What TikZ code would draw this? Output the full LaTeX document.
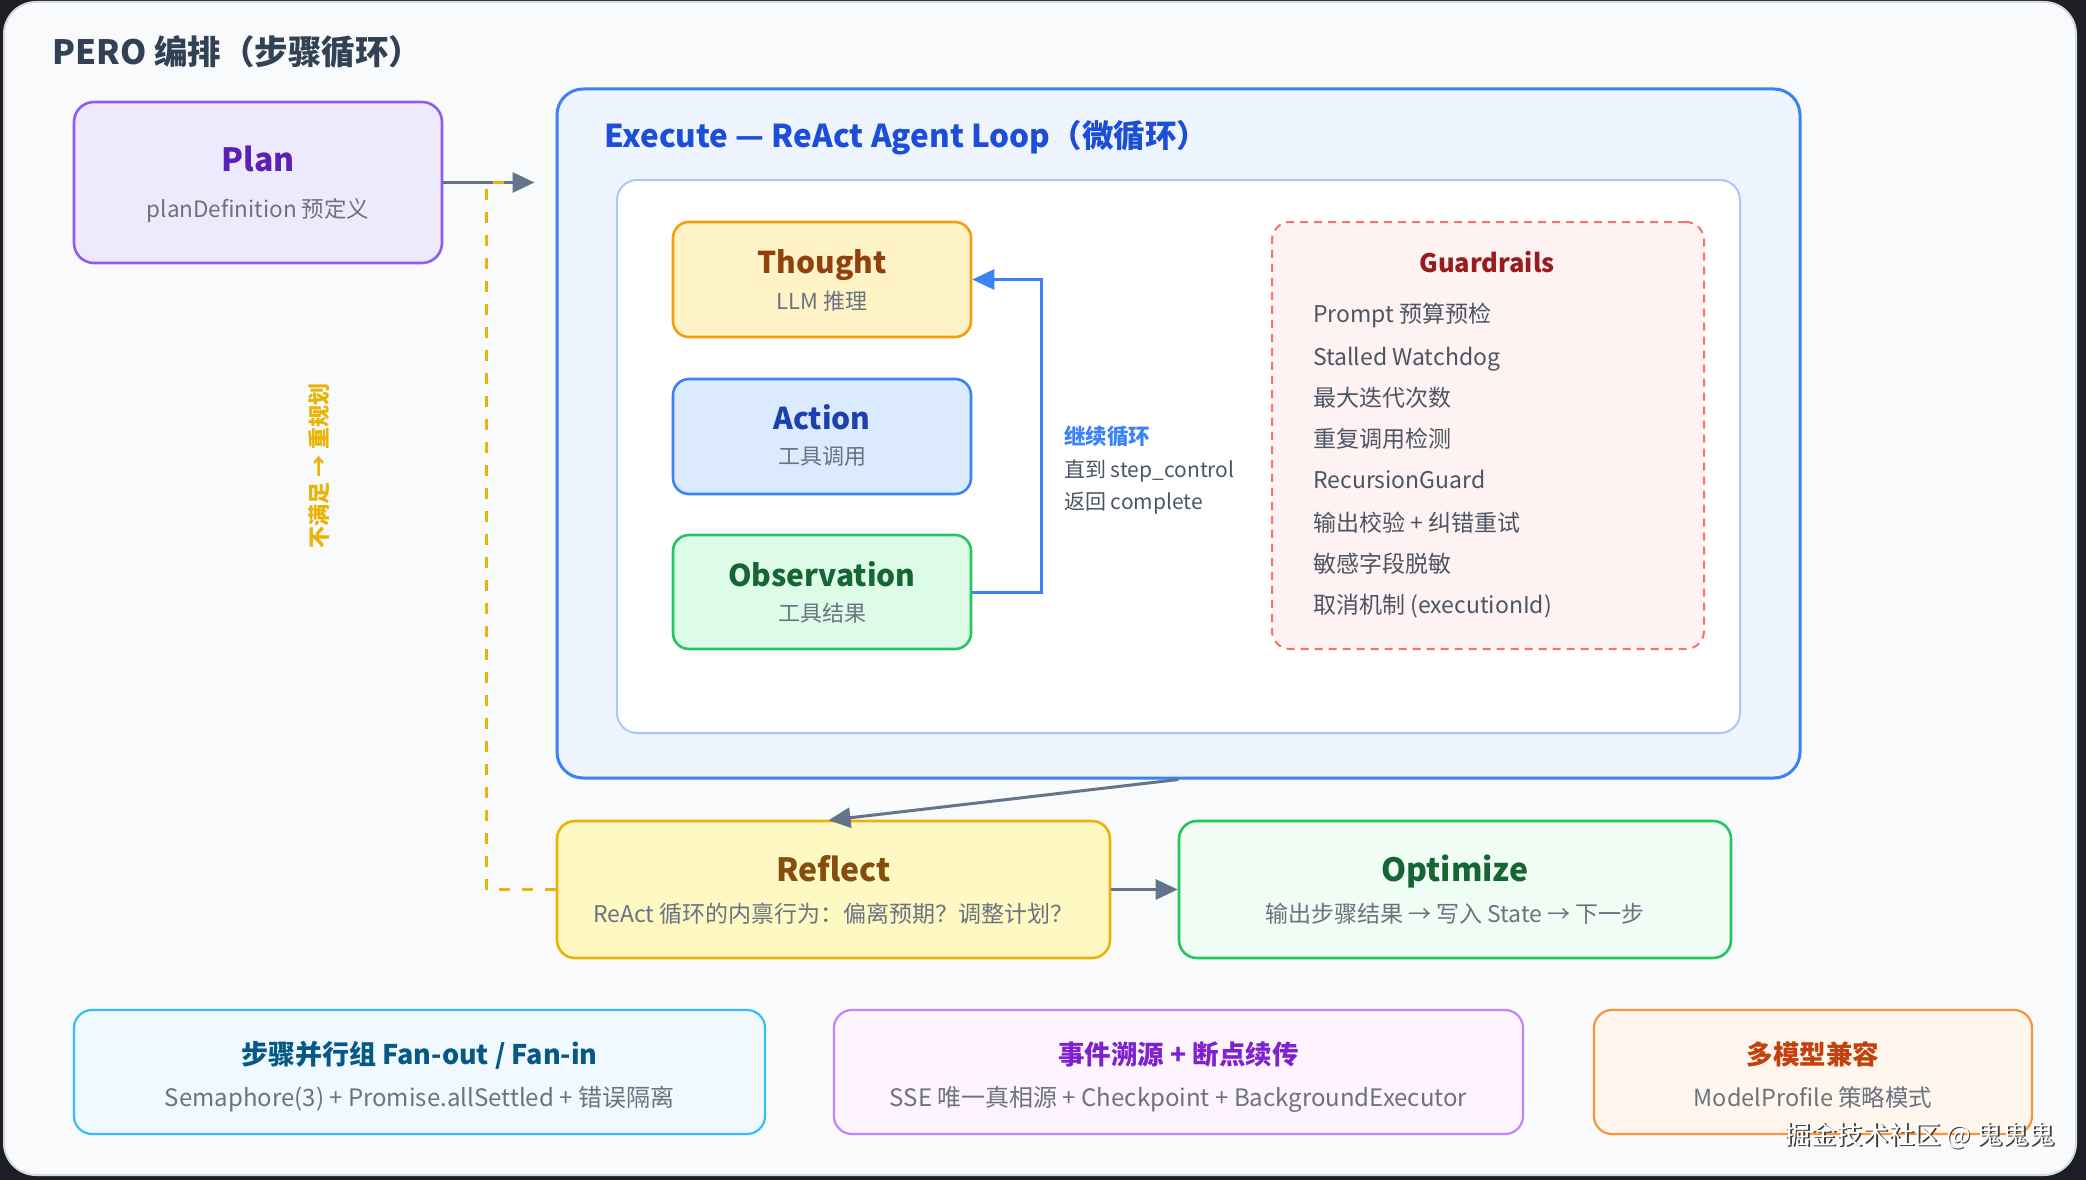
\documentclass[tikz,border=0pt]{standalone}
\usepackage{fontspec}
\setmainfont{Noto Sans CJK SC}
\usetikzlibrary{arrows.meta,calc}
\newcommand\fsz[1]{\fontsize{#1pt}{#1pt}\selectfont}
\definecolor{bgdark}{HTML}{1E1F26}
\definecolor{panel}{HTML}{F8FAFC}
\definecolor{panelB}{HTML}{D5D9E0}
\definecolor{titleC}{HTML}{334155}
\definecolor{planF}{HTML}{EEEAFD}
\definecolor{planB}{HTML}{8B5CF6}
\definecolor{planT}{HTML}{5B21B6}
\definecolor{subC}{HTML}{6B7280}
\definecolor{execF}{HTML}{EEF5FF}
\definecolor{execB}{HTML}{3B82F6}
\definecolor{execT}{HTML}{1D4ED8}
\definecolor{innerB}{HTML}{A5CAFA}
\definecolor{thF}{HTML}{FEF3C7}
\definecolor{thB}{HTML}{F59E0B}
\definecolor{thT}{HTML}{92400E}
\definecolor{acF}{HTML}{DBEAFE}
\definecolor{acB}{HTML}{3B82F6}
\definecolor{acT}{HTML}{1E40AF}
\definecolor{obF}{HTML}{DCFCE7}
\definecolor{obB}{HTML}{22C55E}
\definecolor{obT}{HTML}{166534}
\definecolor{loopC}{HTML}{3B82F6}
\definecolor{gdF}{HTML}{FEF2F2}
\definecolor{gdB}{HTML}{F87171}
\definecolor{gdT}{HTML}{991B1B}
\definecolor{itemC}{HTML}{4B5563}
\definecolor{rfF}{HTML}{FEF9C3}
\definecolor{rfB}{HTML}{EAB308}
\definecolor{rfT}{HTML}{854D0E}
\definecolor{opF}{HTML}{F0FDF4}
\definecolor{opB}{HTML}{22C55E}
\definecolor{opT}{HTML}{166534}
\definecolor{arrowC}{HTML}{64748B}
\definecolor{yellowC}{HTML}{EAB308}
\definecolor{bAF}{HTML}{F0F9FF}
\definecolor{bAB}{HTML}{38BDF8}
\definecolor{bAT}{HTML}{075985}
\definecolor{bBF}{HTML}{FDF4FF}
\definecolor{bBB}{HTML}{C084FC}
\definecolor{bBT}{HTML}{7E22CE}
\definecolor{bCF}{HTML}{FFF7ED}
\definecolor{bCB}{HTML}{FB923C}
\definecolor{bCT}{HTML}{C2410C}
\begin{document}
\begin{tikzpicture}[x=1pt,y=-1pt,
  box/.style={draw, line width=2.6pt, rounded corners=18pt, inner sep=0pt},
  ttl/.style={anchor=base, inner sep=0pt, font=\fsz{#1}\bfseries},
  sub/.style={anchor=base, inner sep=0pt, font=\fsz{#1}, text=subC},
  item/.style={anchor=base west, inner sep=0pt, font=\fsz{23}, text=itemC},
  garrow/.style={draw=arrowC, line width=3pt, -{Triangle[length=22pt,width=20pt]}},
  barrow/.style={draw=loopC, line width=3pt, -{Triangle[length=22pt,width=20pt]}},
  ydash/.style={draw=yellowC, line width=3pt, dash pattern=on 11pt off 12pt}
]
\useasboundingbox (0,0) rectangle (2086,1180);
\fill[bgdark] (0,0) rectangle (2086,1180);
\draw[fill=panel, draw=panelB, line width=2pt, rounded corners=32pt] (4,2) rectangle (2076,1175);

% title
\node[anchor=base west, inner sep=0pt, font=\fsz{33.5}\bfseries, text=titleC] (title) at (52,65) {PERO 编排（步骤循环）};

% Plan
\node[box, draw=planB, fill=planF, minimum width=368pt, minimum height=161pt, rounded corners=20pt] (plan) at (258,182.5) {};
\node[ttl=32, text=planT] (planT) at (258,171.5) {Plan};
\node[sub=22.5] (planS) at (258,217) {planDefinition 预定义};

% Execute
\node[box, draw=execB, fill=execF, line width=3pt, minimum width=1243pt, minimum height=689pt, rounded corners=26pt] (exec) at (1178.5,433.5) {};
\node[anchor=base west, inner sep=0pt, font=\fsz{31.5}\bfseries, text=execT] (execT) at (604,148) {Execute — ReAct Agent Loop（微循环）};
\node[box, draw=innerB, fill=white, line width=2pt, minimum width=1123pt, minimum height=553pt, rounded corners=20pt] (inner) at (1178.5,456.5) {};

% Thought / Action / Observation
\node[box, draw=thB, fill=thF, minimum width=298pt, minimum height=115pt, rounded corners=16pt] (thought) at (822,279.5) {};
\node[ttl=30, text=thT] (thoughtT) at (822,273) {Thought};
\node[sub=22] (thoughtS) at (822,309) {LLM 推理};
\node[box, draw=acB, fill=acF, minimum width=298pt, minimum height=115pt, rounded corners=16pt] (action) at (822,436.5) {};
\node[ttl=30, text=acT] (actionT) at (822,429) {Action};
\node[sub=22] (actionS) at (822,464) {工具调用};
\node[box, draw=obB, fill=obF, minimum width=298pt, minimum height=114pt, rounded corners=16pt] (obs) at (822,592) {};
\node[ttl=30, text=obT] (obsT) at (822,586) {Observation};
\node[sub=22] (obsS) at (822,621) {工具结果};

% loop connector
\draw[barrow] (obs.east) -- ++(69,0) |- (thought.east);
\node[anchor=base west, inner sep=0pt, font=\fsz{21.5}\bfseries, text=loopC] (loopA) at (1064,444) {继续循环};
\node[anchor=base west, inner sep=0pt, font=\fsz{21}, text=itemC] (loopB) at (1064,477) {直到 step\_control};
\node[anchor=base west, inner sep=0pt, font=\fsz{21}, text=itemC] (loopC) at (1064,509) {返回 complete};

% Guardrails
\node[box, draw=gdB, fill=gdF, line width=2pt, dash pattern=on 8pt off 6pt, minimum width=432pt, minimum height=427pt, rounded corners=18pt] (guard) at (1488,435.5) {};
\node[ttl=25.5, text=gdT] (guardT) at (1487,272) {Guardrails};
\node[item] (g1) at (1313,322) {Prompt 预算预检};
\node[item] (g2) at (1313,365) {Stalled Watchdog};
\node[item] (g3) at (1313,406) {最大迭代次数};
\node[item] (g4) at (1313,447) {重复调用检测};
\node[item] (g5) at (1313,488) {RecursionGuard};
\node[item] (g6) at (1313,531) {输出校验 + 纠错重试};
\node[item] (g7) at (1313,572) {敏感字段脱敏};
\node[item] (g8) at (1313,613) {取消机制 (executionId)};

% Reflect / Optimize
\node[box, draw=rfB, fill=rfF, minimum width=553pt, minimum height=137pt, rounded corners=18pt] (reflect) at (833.5,889.5) {};
\node[ttl=32, text=rfT] (reflectT) at (833.5,881.5) {Reflect};
\node[sub=23] (reflectS) at (833.5,922) {ReAct 循环的内禀行为：偏离预期？调整计划？};
\node[box, draw=opB, fill=opF, minimum width=552pt, minimum height=137pt, rounded corners=18pt] (optimize) at (1455,889.5) {};
\node[ttl=32, text=opT] (optimizeT) at (1455,881.5) {Optimize};
\node[sub=23] (optimizeS) at (1455,922) {输出步骤结果 → 写入 State → 下一步};

% bottom boxes
\node[box, draw=bAB, fill=bAF, line width=2.2pt, minimum width=691pt, minimum height=124pt, rounded corners=18pt] (bA) at (419.5,1072) {};
\node[ttl=27, text=bAT] (bAT) at (419.5,1064.5) {步骤并行组 Fan-out / Fan-in};
\node[sub=24] (bAS) at (419.5,1106.5) {Semaphore(3) + Promise.allSettled + 错误隔离};
\node[box, draw=bBB, fill=bBF, line width=2.2pt, minimum width=689pt, minimum height=124pt, rounded corners=18pt] (bB) at (1178.5,1072) {};
\node[ttl=26.5, text=bBT] (bBT) at (1178.5,1064.5) {事件溯源 + 断点续传};
\node[sub=24] (bBS) at (1178.5,1106.5) {SSE 唯一真相源 + Checkpoint + BackgroundExecutor};
\node[box, draw=bCB, fill=bCF, line width=2.2pt, minimum width=438pt, minimum height=124pt, rounded corners=18pt] (bC) at (1813,1072) {};
\node[ttl=26.5, text=bCT] (bCT) at (1813,1064.5) {多模型兼容};
\node[sub=23.5] (bCS) at (1813,1106.5) {ModelProfile 策略模式};

% connectors
\draw[garrow, shorten >=21pt] (plan.east) -- (plan.east -| exec.west);
\coordinate (yend) at (512,182.5);
\draw[ydash] (reflect.west) -- ++(-69,0) |- (yend);
\node[rotate=90, inner sep=0pt, font=\fsz{22}\bfseries, text=yellowC] (replan) at (319,466) {不满足 → 重规划};
\draw[garrow, shorten >=-5pt] (exec.south) -- (reflect.north);
\draw[garrow] (reflect.east) -- (optimize.west);

% watermark
\node[anchor=base east, inner sep=0pt, font=\fsz{26}, text=black!75] (wmS) at (2056.5,1145.5) {掘金技术社区 @ 鬼鬼鬼};
\node[anchor=base east, inner sep=0pt, font=\fsz{26}, text=white] (wm) at (2055,1144) {掘金技术社区 @ 鬼鬼鬼};
\end{tikzpicture}
\end{document}
